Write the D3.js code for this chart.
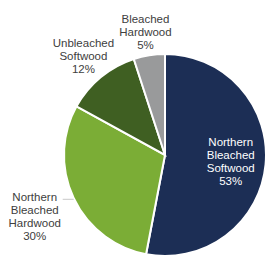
<!DOCTYPE html>
<html>
<head>
<meta charset="utf-8">
<script src="https://cdn.jsdelivr.net/npm/d3@7"></script>
<style>
  body { margin: 0; background: #fff; }
  text { font-family: "Liberation Sans", Arial, sans-serif; font-size: 11.5px; }
</style>
</head>
<body>
<div id="chart-area"></div>
<script>
// data
var categories = ["Northern Bleached Softwood", "Northern Bleached Hardwood", "Unbleached Softwood", "Bleached Hardwood"];
var shares = [53, 30, 12, 5];
var labelLines = [
	["Northern", "Bleached", "Softwood", "53%"],
	["Northern", "Bleached", "Hardwood", "30%"],
	["Unbleached", "Softwood", "12%"],
	["Bleached", "Hardwood", "5%"]
];
var colors = ["#1c2e55", "#7bad36", "#3f5f22", "#999a9b"];

var width = 277,
	height = 259;
var cx = 165, cy = 155, radius = 101;

var svg = d3.select("#chart-area")
	.append("svg")
		.attr("width", width)
		.attr("height", height);

var g = svg.append("g")
	.attr("transform", "translate(" + cx + "," + cy + ")");

var pie = d3.pie().sort(null).value(function(d){ return d; });
var arcs = pie(shares);

var arc = d3.arc().innerRadius(0).outerRadius(radius);

g.selectAll("path.slice")
	.data(arcs)
	.enter().append("path")
		.attr("class", "slice")
		.attr("d", arc)
		.attr("fill", function(d, i){ return colors[i]; })
		.attr("stroke", "#fff")
		.attr("stroke-width", 2);

//= label placement: inside for the big slice, outside for the rest
var labelRadius = [66, 144, 128, 125];
var lineH = 13;

function labelPos(d, i) {
	var a = (d.startAngle + d.endAngle) / 2;
	return [labelRadius[i] * Math.sin(a), -labelRadius[i] * Math.cos(a)];
}

// leader line for the hardwood label
var p1 = labelPos(arcs[1], 1);
g.append("line")
	.attr("x1", p1[0] + 28)
	.attr("x2", p1[0] + 39)
	.attr("y1", p1[1] - 17)
	.attr("y2", p1[1] - 17)
	.attr("stroke", "#c8c8c8")
	.attr("stroke-width", 1);

arcs.forEach(function(d, i){
	var p = labelPos(d, i);
	var lines = labelLines[i];
	var t = g.append("text")
		.attr("text-anchor", "middle")
		.attr("fill", i === 0 ? "#ffffff" : "#404040")
		.attr("transform", "translate(" + p[0] + "," + p[1] + ")");
	lines.forEach(function(l, k){
		t.append("tspan")
			.attr("x", 0)
			.attr("y", (k - (lines.length - 1) / 2) * lineH + 4)
			.text(l);
	});
});
</script>
</body>
</html>
